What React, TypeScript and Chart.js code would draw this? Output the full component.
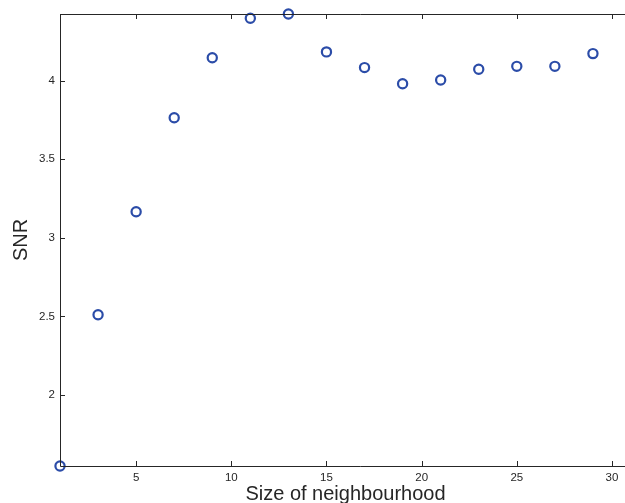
import React, { useEffect, useRef } from "react";
import { Chart, registerables } from "chart.js";

Chart.register(...registerables);

const xValues = [1, 3, 5, 7, 9, 11, 13, 15, 17, 19, 21, 23, 25, 27, 29];
const snrValues = [1.548, 2.51, 3.166, 3.764, 4.146, 4.397, 4.424, 4.183, 4.083, 3.98, 4.004, 4.072, 4.091, 4.091, 4.172];
const xTicks = [5, 10, 15, 20, 25, 30];
const yTicks = [2, 2.5, 3, 3.5, 4];
const xTitle = "Size of neighbourhood";
const yTitle = "SNR";

const CW = 660;
const CH = 503;
const FONT = '"Liberation Sans", Arial, Helvetica, sans-serif';
const AX = "#262626";

const axesPlugin = {
  id: "matlabAxes",
  afterDatasetsDraw(chart: any) {
    const ctx = chart.ctx;
    const { left, right, top, bottom } = chart.chartArea;
    const xs = chart.scales.x;
    const ys = chart.scales.y;
    ctx.save();
    ctx.strokeStyle = AX;
    ctx.lineWidth = 1;
    ctx.beginPath();
    ctx.moveTo(left + 0.5, top + 0.5);
    ctx.lineTo(CW, top + 0.5);
    ctx.moveTo(left + 0.5, top);
    ctx.lineTo(left + 0.5, bottom + 0.5);
    ctx.lineTo(CW, bottom + 0.5);
    const tl = 5;
    xTicks.forEach((v) => {
      const px = Math.round(xs.getPixelForValue(v)) + 0.5;
      ctx.moveTo(px, bottom);
      ctx.lineTo(px, bottom - tl);
      ctx.moveTo(px, top);
      ctx.lineTo(px, top + tl);
    });
    yTicks.forEach((v) => {
      const py = Math.round(ys.getPixelForValue(v)) + 0.5;
      ctx.moveTo(left, py);
      ctx.lineTo(left + tl, py);
    });
    ctx.stroke();

    ctx.fillStyle = AX;
    ctx.font = `11.5px ${FONT}`;
    ctx.textAlign = "center";
    ctx.textBaseline = "middle";
    xTicks.forEach((v) => {
      ctx.fillText(String(v), xs.getPixelForValue(v), bottom + 12);
    });
    ctx.textAlign = "right";
    yTicks.forEach((v) => {
      ctx.fillText(String(v), left - 5, ys.getPixelForValue(v));
    });

    ctx.font = `20px ${FONT}`;
    ctx.textAlign = "center";
    ctx.textBaseline = "alphabetic";
    ctx.fillText(xTitle, (left + right) / 2, bottom + 34);
    ctx.save();
    ctx.translate(27, (top + bottom) / 2);
    ctx.rotate(-Math.PI / 2);
    ctx.fillText(yTitle, 0, 0);
    ctx.restore();
    ctx.restore();
  },
};

export default function App() {
  const ref = useRef<HTMLCanvasElement | null>(null);
  useEffect(() => {
    if (!ref.current) return;
    const chart = new Chart(ref.current, {
      type: "scatter",
      data: {
        datasets: [
          {
            data: xValues.map((x, i) => ({ x, y: snrValues[i] })),
            borderColor: "#2b4ca8",
            backgroundColor: "rgba(0,0,0,0)",
            pointRadius: 4.6,
            pointBorderWidth: 2.2,
            pointHoverRadius: 4.6,
            clip: false as any,
          },
        ],
      },
      options: {
        responsive: false,
        animation: false,
        devicePixelRatio: 1,
        layout: { padding: { left: 0, top: 14, right: CW - 631, bottom: 0 } },
        plugins: { legend: { display: false }, tooltip: { enabled: false } },
        events: [],
        scales: {
          x: {
            type: "linear",
            min: 1,
            max: 31,
            ticks: { display: false },
            grid: { display: false },
            border: { display: false },
            afterFit: (s: any) => {
              s.height = 37;
            },
          },
          y: {
            type: "linear",
            min: 1.548,
            max: 4.424,
            ticks: { display: false },
            grid: { display: false },
            border: { display: false },
            afterFit: (s: any) => {
              s.width = 60;
            },
          },
        },
      },
      plugins: [axesPlugin],
    });
    return () => chart.destroy();
  }, []);
  return (
    <div style={{ position: "absolute", left: 0, top: 0, width: 625, height: 503, overflow: "hidden", background: "#fff" }}>
      <canvas ref={ref} width={CW} height={CH} style={{ display: "block", width: CW, height: CH }} />
    </div>
  );
}
